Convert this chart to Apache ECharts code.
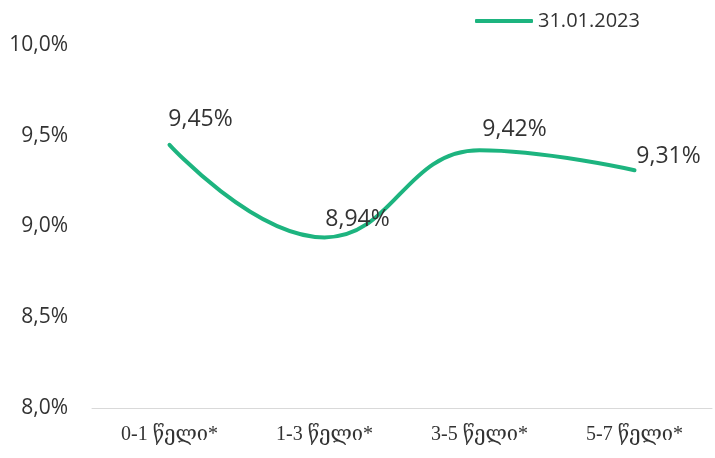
<!DOCTYPE html>
<html>
<head>
<meta charset="utf-8">
<script src="https://cdn.jsdelivr.net/npm/echarts@6/dist/echarts.min.js"></script>
<style>
  html, body { margin: 0; padding: 0; background: #fff; }
  #chart { width: 715px; height: 458px; }
</style>
</head>
<body>
<div id="chart"></div>
<script>
const categories = ['0-1 წელი*', '1-3 წელი*', '3-5 წელი*', '5-7 წელი*'];
const rates = [9.45, 8.94, 9.42, 9.31];
const seriesName = '31.01.2023';

// label nudges, as placed in the original
const labelShift = [[31, -5], [33, 3], [35, 0], [34, 7]];

const fmt = (v, d) => v.toFixed(d).replace('.', ',') + '%';

const myChart = echarts.init(document.getElementById('chart'));
myChart.setOption({
  animation: false,
  grid: { left: 92, right: 3, top: 45, bottom: 50 },
  legend: {
    top: 6, left: 470,
    icon: 'roundRect',
    itemWidth: 58, itemHeight: 4,
    itemGap: 4,
    itemStyle: { color: '#1db47f', opacity: 1 },
    textStyle: { fontFamily: 'Open Sans, sans-serif', fontSize: 20, color: '#333' },
    data: [seriesName]
  },
  xAxis: {
    type: 'category',
    data: categories,
    axisLine: { lineStyle: { color: '#d9d9d9', width: 1 } },
    axisTick: { show: false },
    axisLabel: {
      margin: 17,
      color: '#333',
      fontSize: 20,
      fontFamily: 'Liberation Serif, DejaVu Serif, serif'
    }
  },
  yAxis: {
    type: 'value',
    min: 8, max: 10, interval: 0.5,
    splitLine: { show: false },
    axisLine: { show: false },
    axisLabel: {
      margin: 24,
      color: '#333',
      fontSize: 21,
      fontFamily: 'Open Sans, sans-serif',
      formatter: v => fmt(v, 1)
    }
  },
  series: [{
    name: seriesName,
    type: 'line',
    data: rates.map((v, i) => ({ value: v, label: { offset: labelShift[i] } })),
    smooth: 0.45,
    symbol: 'circle',
    symbolSize: 2,
    showSymbol: true,
    lineStyle: { color: '#1db47f', width: 4, cap: 'round' },
    itemStyle: { color: '#1db47f' },
    label: {
      show: true,
      position: 'top',
      distance: 8,
      color: '#333',
      fontSize: 23,
      fontFamily: 'Open Sans, sans-serif',
      formatter: p => fmt(p.value, 2)
    }
  }]
});
</script>
</body>
</html>
